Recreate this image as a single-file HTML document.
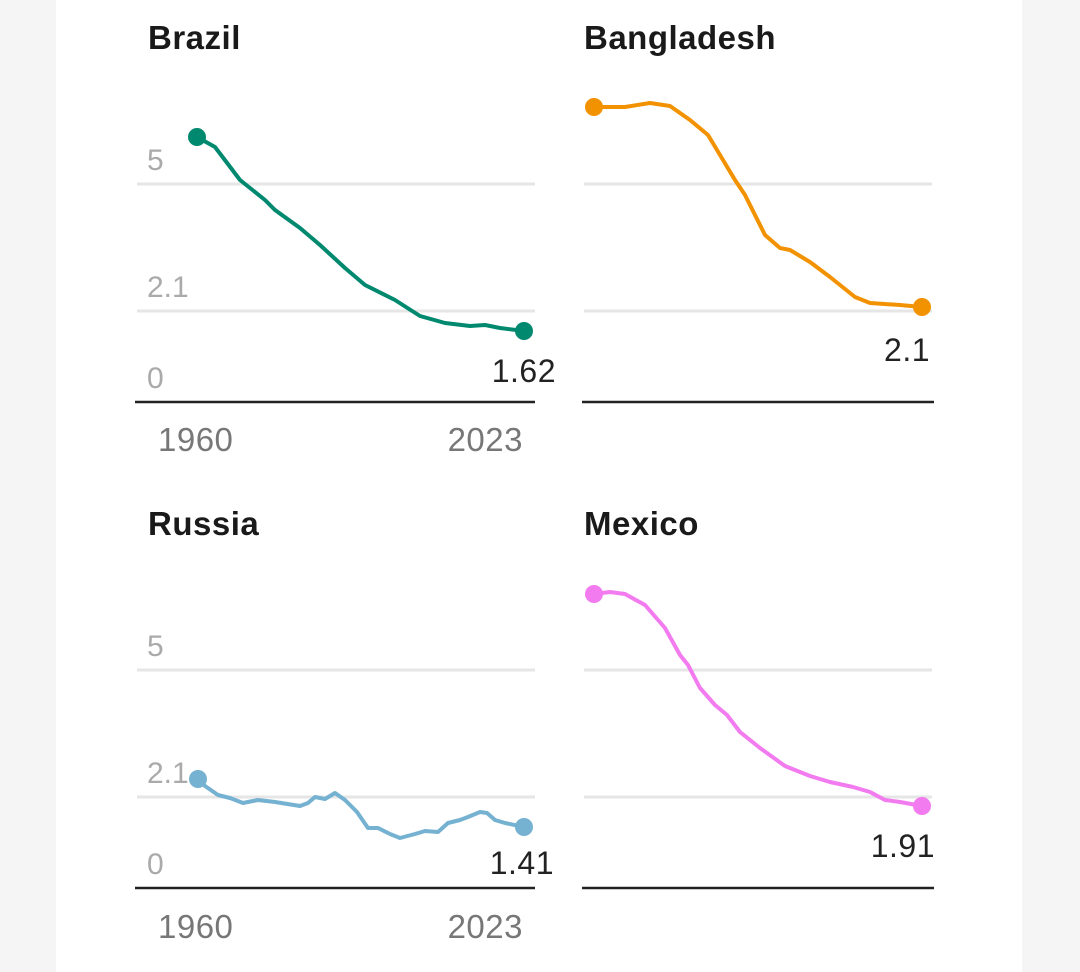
<!DOCTYPE html>
<html><head><meta charset="utf-8"><style>
html,body{margin:0;padding:0;background:#f5f5f5;}
svg{display:block;}
</style></head><body>
<svg width="1080" height="972" xmlns="http://www.w3.org/2000/svg" font-family="Liberation Sans, sans-serif">
<rect x="0" y="0" width="1080" height="972" fill="#f5f5f5"/>
<rect x="56" y="0" width="966" height="972" fill="#ffffff"/>
<g font-weight="bold" font-size="33" fill="#1a1a1a" letter-spacing="0.5">
<text x="148" y="49">Brazil</text>
<text x="584" y="49">Bangladesh</text>
<text x="148" y="535">Russia</text>
<text x="584" y="535">Mexico</text>
</g>
<g stroke="#e6e6e6" stroke-width="3">
<line x1="137" y1="184" x2="535" y2="184"/><line x1="137" y1="311" x2="535" y2="311"/>
<line x1="584" y1="184" x2="932" y2="184"/><line x1="584" y1="311" x2="932" y2="311"/>
<line x1="137" y1="670" x2="535" y2="670"/><line x1="137" y1="797" x2="535" y2="797"/>
<line x1="584" y1="670" x2="932" y2="670"/><line x1="584" y1="797" x2="932" y2="797"/>
</g>
<g stroke="#222" stroke-width="2.5">
<line x1="135" y1="402" x2="535" y2="402"/><line x1="582" y1="402" x2="934" y2="402"/>
<line x1="135" y1="888" x2="535" y2="888"/><line x1="582" y1="888" x2="934" y2="888"/>
</g>
<g font-size="30" fill="#aaaaaa">
<text x="147" y="170">5</text><text x="147" y="297">2.1</text><text x="147" y="388">0</text>
<text x="147" y="656">5</text><text x="147" y="783">2.1</text><text x="147" y="874">0</text>
</g>
<g font-size="33" fill="#777777" letter-spacing="0.5">
<text x="158" y="451">1960</text><text x="523" y="451" text-anchor="end">2023</text>
<text x="158" y="938">1960</text><text x="523" y="938" text-anchor="end">2023</text>
</g>
<g font-size="32" fill="#222" text-anchor="end" letter-spacing="0.5">
<text x="556" y="382">1.62</text>
<text x="930" y="361">2.1</text>
<text x="554" y="874">1.41</text>
<text x="935" y="857">1.91</text>
</g>
<g fill="none" stroke-width="4" stroke-linejoin="round" stroke-linecap="round">
<polyline stroke="#00896f" points="197,137 215,147 240,180 265,200 275,210 300,228 320,245 345,268 365,285 395,300 420,316 445,323 470,326 485,325 500,328 524,331"/>
<polyline stroke="#f39200" points="594,107 625,107 650,103 670,106 690,120 708,135 720,155 735,180 745,195 755,215 765,235 780,248 790,250 810,262 830,277 855,297 870,303 900,305 922,307"/>
<polyline stroke="#75b1d0" points="198,779 205,786 218,795 230,798 243,803 258,800 275,802 300,806 308,803 315,797 325,799 335,793 345,800 357,812 368,828 378,828 390,834 400,838 415,834 425,831 438,832 448,823 460,820 468,817 480,812 487,813 495,820 505,823 524,827"/>
<polyline stroke="#f27bef" points="594,594 610,592 625,594 645,605 665,628 680,655 688,665 700,688 715,705 727,715 740,732 760,748 785,766 810,776 830,782 853,787 870,792 885,800 900,802 922,806"/>
</g>
<circle cx="197" cy="137" r="9" fill="#00896f"/><circle cx="524" cy="331" r="9" fill="#00896f"/>
<circle cx="594" cy="107" r="9" fill="#f39200"/><circle cx="922" cy="307" r="9" fill="#f39200"/>
<circle cx="198" cy="779" r="9" fill="#75b1d0"/><circle cx="524" cy="827" r="9" fill="#75b1d0"/>
<circle cx="594" cy="594" r="9" fill="#f27bef"/><circle cx="922" cy="806" r="9" fill="#f27bef"/>
</svg>
</body></html>
